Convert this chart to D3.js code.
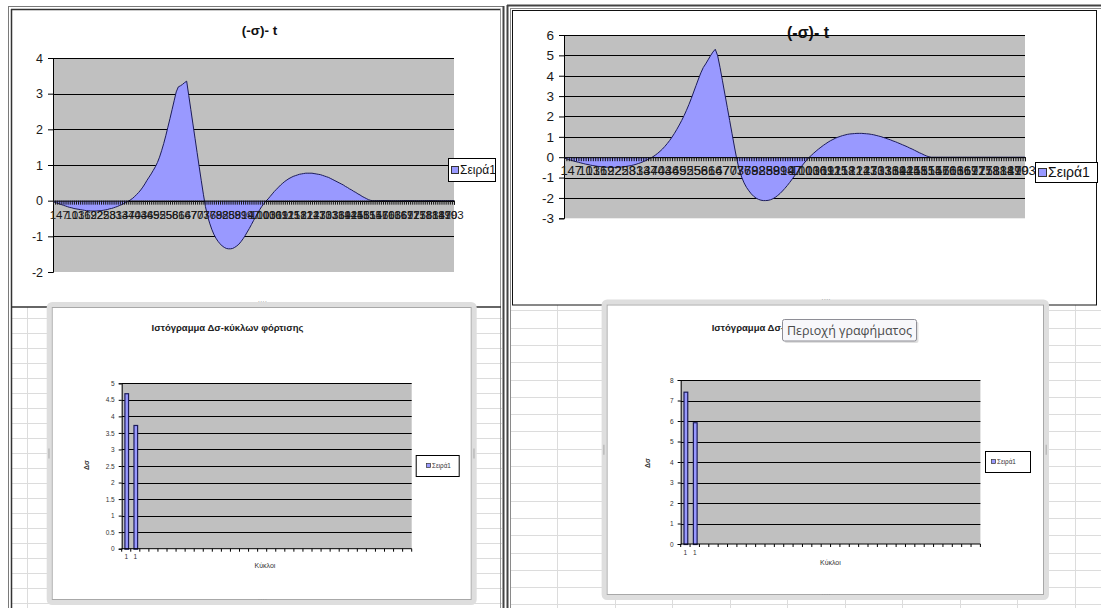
<!DOCTYPE html>
<html>
<head>
<meta charset="utf-8">
<script src="https://cdnjs.cloudflare.com/ajax/libs/d3/7.8.5/d3.min.js"></script>
<style>
  body { margin: 0; background: #fff; }
  svg { display: block; }
  text { font-family: "Liberation Sans", Arial, sans-serif; }
</style>
</head>
<body>
<svg id="sheet" width="1101" height="608"></svg>
<script>
// ---- data -------------------------------------------------------------
// time steps 1..193 of the stress history
const tCategories = d3.range(1, 194);

// (-σ) history, first run
const stressA = [
  -0.03,-0.05,-0.07,-0.09,-0.11,-0.13,-0.15,-0.17,-0.19,-0.2,
  -0.22,-0.23,-0.24,-0.25,-0.26,-0.27,-0.28,-0.28,-0.29,-0.29,
  -0.29,-0.29,-0.28,-0.28,-0.27,-0.26,-0.25,-0.23,-0.22,-0.2,
  -0.18,-0.16,-0.13,-0.11,-0.08,-0.05,-0.02,0.02,0.06,0.11,
  0.17,0.23,0.3,0.38,0.47,0.57,0.66,0.75,0.85,0.95,
  1.07,1.22,1.4,1.6,1.82,2.06,2.3,2.55,2.8,3.05,
  3.19,3.22,3.26,3.31,3.35,2.95,2.55,2.15,1.75,1.35,
  0.95,0.56,0.18,-0.17,-0.43,-0.63,-0.8,-0.94,-1.05,-1.14,
  -1.21,-1.27,-1.31,-1.34,-1.35,-1.35,-1.34,-1.31,-1.27,-1.22,
  -1.15,-1.07,-0.98,-0.88,-0.78,-0.67,-0.56,-0.45,-0.35,-0.25,
  -0.16,-0.08,-0.01,0.05,0.12,0.19,0.26,0.32,0.38,0.44,
  0.49,0.54,0.58,0.62,0.65,0.68,0.7,0.72,0.74,0.75,
  0.76,0.77,0.77,0.77,0.77,0.76,0.75,0.74,0.73,0.71,
  0.69,0.67,0.65,0.62,0.59,0.56,0.53,0.5,0.47,0.44,
  0.4,0.37,0.33,0.3,0.26,0.23,0.19,0.16,0.12,0.09,
  0.06,0.03,0.01,0,0,0,0,0,0,0,
  0,0,0,0,0,0,0,0,0,0,
  0,0,0,0,0,0,0,0,0,0,
  0,0,0,0,0,0,0,0,0,0,
  0,0,0
];

// (-σ) history, second run
const stressB = [
  -0.04,-0.08,-0.12,-0.15,-0.19,-0.22,-0.25,-0.28,-0.31,-0.34,
  -0.36,-0.39,-0.41,-0.43,-0.45,-0.46,-0.47,-0.48,-0.49,-0.5,
  -0.5,-0.5,-0.5,-0.49,-0.48,-0.47,-0.45,-0.43,-0.41,-0.38,
  -0.35,-0.31,-0.27,-0.22,-0.17,-0.11,-0.05,0.02,0.1,0.19,
  0.29,0.4,0.53,0.67,0.82,0.99,1.17,1.37,1.58,1.8,
  2.04,2.3,2.58,2.88,3.2,3.52,3.84,4.14,4.4,4.58,
  4.78,4.98,5.16,5.3,4.98,4.4,3.75,3.1,2.45,1.8,
  1.15,0.5,-0.12,-0.62,-0.98,-1.26,-1.48,-1.65,-1.8,-1.92,
  -2.01,-2.07,-2.11,-2.13,-2.13,-2.12,-2.09,-2.04,-1.97,-1.88,
  -1.78,-1.66,-1.53,-1.39,-1.24,-1.08,-0.92,-0.76,-0.6,-0.44,
  -0.29,-0.15,-0.02,0.09,0.2,0.3,0.4,0.49,0.58,0.66,
  0.74,0.81,0.87,0.93,0.98,1.02,1.06,1.09,1.12,1.14,
  1.15,1.16,1.17,1.17,1.17,1.16,1.15,1.14,1.12,1.1,
  1.07,1.04,1.01,0.97,0.93,0.89,0.85,0.8,0.76,0.71,
  0.66,0.61,0.56,0.51,0.45,0.4,0.34,0.28,0.22,0.17,
  0.11,0.06,0.02,0,0,0,0,0,0,0,
  0,0,0,0,0,0,0,0,0,0,
  0,0,0,0,0,0,0,0,0,0,
  0,0,0,0,0,0,0,0,0,0,
  0,0,0
];

const yTicksA = [-2, -1, 0, 1, 2, 3, 4];
const yTicksB = [-3, -2, -1, 0, 1, 2, 3, 4, 5, 6];

// histogram of Δσ per loading cycle (32 category slots, two filled)
const cycleLabels = ["1", "1"].concat(new Array(30).fill(""));
const rangeA = [4.7, 3.74];
const rangeB = [7.43, 5.94];
const histTicksA = [0, 0.5, 1, 1.5, 2, 2.5, 3, 3.5, 4, 4.5, 5];
const histTicksB = [0, 1, 2, 3, 4, 5, 6, 7, 8];

const seriesName = "Σειρά1";
const chartTitle = "(-σ)- t";
const histTitle = "Ιστόγραμμα  Δσ-κύκλων φόρτισης";

// ---- styling -----------------------------------------------------------
const FILL = "#9999ff", EDGE = "#1c1c5a", PLOT_BG = "#c0c0c0", CELL = "#dcdcdc";
const plain = d => String(d);

const svg = d3.select("#sheet");

// ---- worksheet background ---------------------------------------------
function cellGrid(x0, x1, y0, y1, rows, cols) {
  const g = svg.append("g").attr("stroke", CELL).attr("stroke-width", 1);
  rows.forEach(r => g.append("line").attr("x1", x0).attr("x2", x1)
    .attr("y1", Math.round(r) + 0.5).attr("y2", Math.round(r) + 0.5));
  cols.forEach(c => g.append("line").attr("y1", y0).attr("y2", y1)
    .attr("x1", Math.round(c) + 0.5).attr("x2", Math.round(c) + 0.5));
}
cellGrid(11, 502, 307, 608, d3.range(318, 608, 15), [27]);
cellGrid(510, 1101, 305, 608, d3.range(310.3, 608, 17.3), d3.range(557, 1101, 57.5));

function hline(x1, x2, y, color, w) {
  svg.append("line").attr("x1", x1).attr("x2", x2).attr("y1", y).attr("y2", y)
    .attr("stroke", color).attr("stroke-width", w);
}
function vline(x, y1, y2, color, w) {
  svg.append("line").attr("x1", x).attr("x2", x).attr("y1", y1).attr("y2", y2)
    .attr("stroke", color).attr("stroke-width", w);
}

// left window frame
vline(8.5, 6, 608, "#7a7a7a", 1);
vline(11.5, 9, 608, "#333", 1.5);
hline(8, 504, 6.5, "#7a7a7a", 1);
hline(11, 501, 9.5, "#333", 1.5);
vline(500.5, 9, 608, "#9a9a9a", 1);
vline(503.5, 6, 608, "#444", 2);
hline(11, 501, 307, "#333", 1.5);

// right window frame
vline(507.5, 5, 608, "#444", 2);
vline(510.5, 8, 608, "#8a8a8a", 1);
hline(507, 1101, 5.5, "#444", 2);
hline(510, 1101, 8.5, "#8a8a8a", 1);
svg.append("rect").attr("x", 512.5).attr("y", 10.5).attr("width", 584).attr("height", 294.5)
  .attr("fill", "#fff").attr("stroke", "#111").attr("stroke-width", 1);

// ---- area chart ---------------------------------------------------------
function areaChart(c) {
  const g = svg.append("g");
  const x = d3.scalePoint().domain(tCategories).range([c.x0, c.x1]);
  const y = d3.scaleLinear().domain([c.ticks[0], c.ticks[c.ticks.length - 1]]).range([c.y1, c.y0]);

  g.append("rect").attr("x", c.x0).attr("y", c.y0)
    .attr("width", c.x1 - c.x0).attr("height", c.y1 - c.y0).attr("fill", PLOT_BG);

  g.append("g").selectAll("line").data(c.ticks.slice(1)).join("line")
    .attr("x1", c.x0).attr("x2", c.x1)
    .attr("y1", d => Math.round(y(d)) + 0.5).attr("y2", d => Math.round(y(d)) + 0.5)
    .attr("stroke", "#000").attr("stroke-width", 1);

  const area = d3.area().x((d, i) => x(tCategories[i])).y0(y(0)).y1(d => y(d));
  const line = d3.line().x((d, i) => x(tCategories[i])).y(d => y(d));
  g.append("path").datum(c.values).attr("d", area).attr("fill", FILL);
  g.append("path").datum(c.values).attr("d", line).attr("fill", "none")
    .attr("stroke", EDGE).attr("stroke-width", 1);

  // value axis
  const ya = g.append("g").attr("transform", `translate(${c.x0},0)`)
    .call(d3.axisLeft(y).tickValues(c.ticks).tickFormat(plain).tickSize(5).tickPadding(5));
  ya.select(".domain").attr("stroke", "#000");
  ya.selectAll("text").attr("font-size", c.tickFont).attr("fill", "#1a1a1a")
    .style("font-family", '"Liberation Sans", Arial, sans-serif');

  // category axis crossing at zero: a tick on every step, a label on every third
  const xa = g.append("g").attr("transform", `translate(0,${y(0)})`)
    .call(d3.axisBottom(x).tickValues(tCategories).tickSize(4).tickFormat(""));
  xa.select(".domain").attr("stroke", "#000");
  xa.selectAll(".tick line").attr("stroke", "#111");
  g.append("g").selectAll("text").data(tCategories.filter((d, i) => i % 3 === 0)).join("text")
    .attr("x", d => x(d)).attr("y", y(0) + c.labelDy)
    .attr("text-anchor", "middle").attr("font-size", c.catFont).attr("fill", "#1a1a1a")
    .text(d => d);

  // title
  g.append("text").attr("x", c.titleX).attr("y", c.titleY).attr("text-anchor", "middle")
    .attr("font-size", c.titleFont).attr("font-weight", "bold").attr("fill", "#111").text(chartTitle);

  // legend
  const L = c.legend;
  g.append("rect").attr("x", L.x + 0.5).attr("y", L.y + 0.5).attr("width", L.w).attr("height", L.h)
    .attr("fill", "#fff").attr("stroke", "#000");
  g.append("rect").attr("x", L.x + L.mx + 0.5).attr("y", L.y + L.h / 2 - L.ms / 2 + 0.5)
    .attr("width", L.ms).attr("height", L.ms).attr("fill", FILL).attr("stroke", "#333");
  g.append("text").attr("x", L.x + L.mx + L.ms + 2).attr("y", L.y + L.h / 2 + L.font * 0.36)
    .attr("font-size", L.font).attr("fill", "#111").text(seriesName);
}

areaChart({
  values: stressA, ticks: yTicksA,
  x0: 53, x1: 454, y0: 58, y1: 272,
  tickFont: 12.5, catFont: 11.5, labelDy: 18,
  titleX: 259.5, titleY: 35, titleFont: 13.5,
  legend: { x: 448, y: 158, w: 47, h: 23, mx: 3, ms: 7, font: 12 }
});

areaChart({
  values: stressB, ticks: yTicksB,
  x0: 564, x1: 1025, y0: 35, y1: 218.3,
  tickFont: 13.5, catFont: 13, labelDy: 18,
  titleX: 808, titleY: 38, titleFont: 16,
  legend: { x: 1035, y: 162, w: 62, h: 20, mx: 3, ms: 8, font: 14 }
});

// ---- column (histogram) chart --------------------------------------------
function selectionFrame(x0, y0, x1, y1) {
  const g = svg.append("g");
  g.append("rect").attr("x", x0 + 2.5).attr("y", y0 + 2.5).attr("width", x1 - x0 - 5).attr("height", y1 - y0 - 5)
    .attr("rx", 3).attr("fill", "#fff").attr("stroke", "#dedede").attr("stroke-width", 5);
  g.append("rect").attr("x", x0 + 5.5).attr("y", y0 + 5.5).attr("width", x1 - x0 - 11).attr("height", y1 - y0 - 11)
    .attr("fill", "none").attr("stroke", "#a8a8a8").attr("stroke-width", 1);
  const mx = (x0 + x1) / 2, my = (y0 + y1) / 2;
  [[mx - 4, y0 + 2], [mx - 4, y1 - 3]].forEach(([a, b]) =>
    g.append("text").attr("x", a).attr("y", b).attr("font-size", 7).attr("fill", "#999").text("····"));
  [[x0 + 2, my], [x1 - 3, my]].forEach(([a, b]) =>
    g.append("rect").attr("x", a - 0.5).attr("y", b - 5).attr("width", 1.5).attr("height", 10).attr("fill", "#bbb"));
}

function histChart(c) {
  selectionFrame(c.fx0, c.fy0, c.fx1, c.fy1);
  const g = svg.append("g");
  const idx = d3.range(cycleLabels.length);
  const x = d3.scaleBand().domain(idx).range([c.x0, c.x1]).paddingInner(0.6).paddingOuter(0.3);
  const y = d3.scaleLinear().domain([c.ticks[0], c.ticks[c.ticks.length - 1]]).range([c.y1, c.y0]);

  g.append("rect").attr("x", c.x0).attr("y", c.y0)
    .attr("width", c.x1 - c.x0).attr("height", c.y1 - c.y0).attr("fill", PLOT_BG);
  g.append("g").selectAll("line").data(c.ticks.slice(1)).join("line")
    .attr("x1", c.x0).attr("x2", c.x1)
    .attr("y1", d => Math.round(y(d)) + 0.5).attr("y2", d => Math.round(y(d)) + 0.5)
    .attr("stroke", "#000");

  g.append("g").selectAll("rect").data(c.values).join("rect")
    .attr("x", (d, i) => x(i) + 0.5).attr("y", d => y(d) + 0.5)
    .attr("width", x.bandwidth()).attr("height", d => c.y1 - y(d))
    .attr("fill", FILL).attr("stroke", EDGE).attr("stroke-width", 1.2);

  const ya = g.append("g").attr("transform", `translate(${c.x0},0)`)
    .call(d3.axisLeft(y).tickValues(c.ticks).tickFormat(plain).tickSize(3).tickPadding(4));
  ya.select(".domain").attr("stroke", "#000");
  ya.selectAll("text").attr("font-size", 6.5).attr("fill", "#333")
    .style("font-family", '"Liberation Sans", Arial, sans-serif');

  // category boundaries carry the tick marks
  const step = x.step();
  const xa = g.append("g").attr("transform", `translate(0,${c.y1})`);
  xa.append("line").attr("x1", c.x0).attr("x2", c.x1).attr("stroke", "#000");
  xa.selectAll(".b").data(d3.range(cycleLabels.length + 1)).join("line")
    .attr("x1", d => c.x0 + d * step).attr("x2", d => c.x0 + d * step)
    .attr("y1", 0).attr("y2", 3).attr("stroke", "#000");
  xa.selectAll("text").data(idx).join("text")
    .attr("x", d => x(d) + x.bandwidth() / 2).attr("y", c.labelDy)
    .attr("text-anchor", "middle").attr("font-size", 6.5).attr("fill", "#333")
    .text(d => cycleLabels[d]);

  g.append("text").attr("x", c.xTitle[0]).attr("y", c.xTitle[1]).attr("text-anchor", "middle")
    .attr("font-size", 7).attr("fill", "#333").text("Κύκλοι");
  g.append("text").attr("transform", `translate(${c.yTitle[0]},${c.yTitle[1]}) rotate(-90)`)
    .attr("text-anchor", "middle").attr("font-size", 7).attr("font-weight", "bold")
    .attr("fill", "#333").text("Δσ");

  g.append("text").attr("x", c.title[0]).attr("y", c.title[1]).attr("text-anchor", c.title[2])
    .attr("font-size", 9.5).attr("font-weight", "bold").attr("fill", "#222").text(histTitle);

  const L = c.legend;
  g.append("rect").attr("x", L.x + 0.5).attr("y", L.y + 0.5).attr("width", L.w).attr("height", L.h)
    .attr("fill", "#fff").attr("stroke", "#000");
  g.append("rect").attr("x", L.tx - 5.5).attr("y", L.y + L.h / 2 - 2).attr("width", 4).attr("height", 4)
    .attr("fill", FILL).attr("stroke", "#333").attr("stroke-width", 0.7);
  g.append("text").attr("x", L.tx).attr("y", L.y + L.h / 2 + 2.3)
    .attr("font-size", 6.3).attr("fill", "#333").text(seriesName);
}

histChart({
  values: rangeA, ticks: histTicksA,
  fx0: 46.7, fy0: 302, fx1: 476.7, fy1: 605,
  x0: 121.7, x1: 411.7, y0: 383.3, y1: 548.7, labelDy: 10,
  xTitle: [265, 568], yTitle: [89, 465],
  title: [227.5, 330.5, "middle"],
  legend: { x: 415.7, y: 455, w: 43, h: 21, tx: 432 }
});

histChart({
  values: rangeB, ticks: histTicksB,
  fx0: 601.6, fy0: 299.5, fx1: 1049, fy1: 600,
  x0: 680.7, x1: 980.4, y0: 380, y1: 544, labelDy: 11,
  xTitle: [830.4, 565], yTitle: [650, 463],
  title: [711.7, 330.5, "start"],
  legend: { x: 985, y: 451, w: 45, h: 21, tx: 997 }
});

// hover tooltip over the second histogram
const tip = svg.append("g");
tip.append("rect").attr("x", 784.5).attr("y", 321.5).attr("width", 134).attr("height", 21.5)
  .attr("rx", 2).attr("fill", "#000").attr("opacity", 0.12);
tip.append("rect").attr("x", 782.5).attr("y", 319.5).attr("width", 134).attr("height", 21.5)
  .attr("rx", 2).attr("fill", "#f7f7fa").attr("stroke", "#8e8e96");
tip.append("text").attr("x", 787).attr("y", 335).attr("font-size", 12.5)
  .attr("fill", "#4a4a4a").style("font-family", '"Open Sans", "Noto Sans", sans-serif')
  .text("Περιοχή γραφήματος");
</script>
</body>
</html>
